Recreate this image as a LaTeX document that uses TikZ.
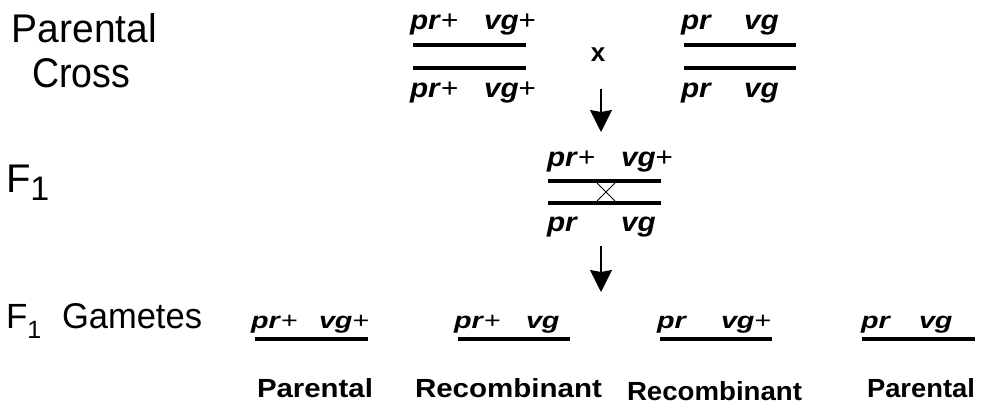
\documentclass[tikz,border=0pt]{standalone}
\usepackage{fontspec}
\setmainfont{Liberation Sans}
\usetikzlibrary{arrows.meta}
\newcommand{\pl}{\textup{\mdseries +}}
\newcommand{\gtp}[1]{\scalebox{1.1}[1]{#1}}
\newcommand{\gtq}[1]{\scalebox{1.25}[1]{#1}}
\tikzset{
  lbl/.style={anchor=base west, inner sep=0pt, outer sep=0pt},
  gt/.style={anchor=base west, inner sep=0pt, outer sep=0pt, font=\fontsize{27}{27}\selectfont\bfseries\itshape},
  gtg/.style={anchor=base west, inner sep=0pt, outer sep=0pt, font=\fontsize{23}{23}\selectfont\bfseries\itshape},
  chrom/.style={line width=3.5pt},
  arr/.style={line width=1.8pt, -{Stealth[length=22pt,width=22pt,inset=2pt]}},
  thinx/.style={line width=1pt},
}
\begin{document}
\begin{tikzpicture}[x=1pt,y=-1pt]
\useasboundingbox (0,0) rectangle (985,405);
% left labels
\node[lbl] (parental) at (12,42) {\resizebox{145pt}{29pt}{Parental}};
\node[lbl] (cross) at (32,87) {\resizebox{98pt}{29pt}{Cross}};
\node[lbl, font=\fontsize{40}{40}\selectfont] (fone) at (6,192)
  {F\raisebox{-8pt}{\fontsize{34}{34}\selectfont 1}};
\node[lbl, font=\fontsize{35}{35}\selectfont] (gf) at (6,328)
  {F\raisebox{-10pt}{\fontsize{25}{25}\selectfont 1}};
\node[lbl] (gam) at (62,328) {\resizebox{140pt}{25pt}{Gametes}};
% parent 1
\node[gt] (p1tpr) at (410,29) {\gtp{pr\pl}};
\node[gt] (p1tvg) at (484,29) {\gtp{vg\pl}};
\draw[chrom] (413,45) -- (526,45);
\draw[chrom] (413,68) -- (526,68);
\node[gt] (p1bpr) at (410,97) {\gtp{pr\pl}};
\node[gt] (p1bvg) at (484,97) {\gtp{vg\pl}};
% cross sign
\node[inner sep=0pt, font=\fontsize{26}{26}\selectfont\bfseries] (xsign) at (598,55) {x};
% parent 2
\node[gt] (p2tpr) at (681,29) {\gtp{pr}};
\node[gt] (p2tvg) at (744,29) {\gtp{vg}};
\draw[chrom] (684,45) -- (796,45);
\draw[chrom] (684,68) -- (796,68);
\node[gt] (p2bpr) at (681,97) {\gtp{pr}};
\node[gt] (p2bvg) at (744,97) {\gtp{vg}};
% arrow 1
\coordinate (a1s) at (601,89);
\coordinate (a1e) at (601,132);
\draw[arr] (a1s) -- (a1e);
% F1
\node[gt] (f1tpr) at (547,166) {\gtp{pr\pl}};
\node[gt] (f1tvg) at (621,166) {\gtp{vg\pl}};
\draw[chrom] (548,181) -- (661,181);
\draw[chrom] (548,203) -- (661,203);
\draw[thinx] (597,183) -- (615,201) (597,201) -- (615,183);
\node[gt] (f1bpr) at (547,231) {\gtp{pr}};
\node[gt] (f1bvg) at (621,231) {\gtp{vg}};
% arrow 2
\coordinate (a2s) at (601,246);
\coordinate (a2e) at (601,292);
\draw[arr] (a2s) -- (a2e);
% gametes
\node[gtg] (g1pr) at (251,328) {\gtq{pr\pl}};
\node[gtg] (g1vg) at (319,328) {\gtq{vg\pl}};
\draw[chrom] (255,339) -- (368,339);
\node[gtg] (g2pr) at (454,328) {\gtq{pr\pl}};
\node[gtg] (g2vg) at (526,328) {\gtq{vg}};
\draw[chrom] (458,339) -- (570,339);
\node[gtg] (g3pr) at (657,328) {\gtq{pr}};
\node[gtg] (g3vg) at (721,328) {\gtq{vg\pl}};
\draw[chrom] (660,339) -- (772,339);
\node[gtg] (g4pr) at (861,328) {\gtq{pr}};
\node[gtg] (g4vg) at (919,328) {\gtq{vg}};
\draw[chrom] (862,339) -- (975,339);
% labels under gametes
\node[lbl] (l1) at (257,397) {\resizebox{116pt}{19pt}{\bfseries Parental}};
\node[lbl] (l2) at (415,397) {\resizebox{187pt}{19pt}{\bfseries Recombinant}};
\node[lbl] (l3) at (627,400) {\resizebox{175pt}{19pt}{\bfseries Recombinant}};
\node[lbl] (l4) at (867,397) {\resizebox{108pt}{19pt}{\bfseries Parental}};
\end{tikzpicture}
\end{document}
